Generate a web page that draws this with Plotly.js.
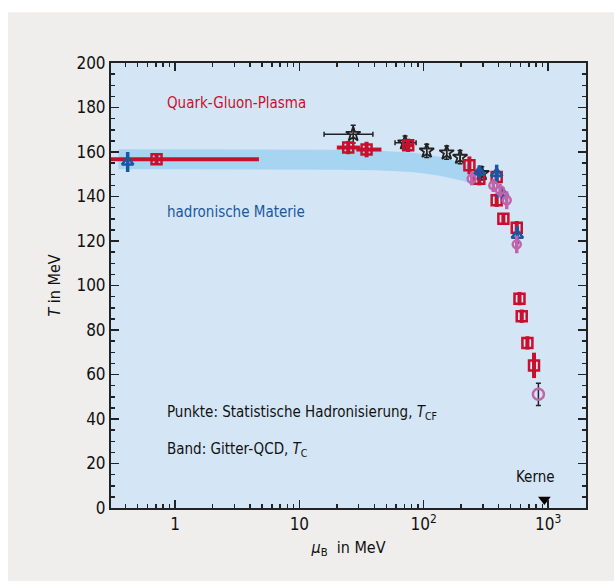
<!DOCTYPE html>
<html>
<head>
<meta charset="utf-8">
<script src="https://cdn.plot.ly/plotly-3.0.1.min.js"></script>
<style>html,body{margin:0;padding:0;background:#fff;}#chart{width:614px;height:581px;}</style>
</head>
<body>
<div id="chart"></div>
<script>
// ---- data ----
// Lattice-QCD band
var bandMu    = [0.35, 1, 5, 10, 20, 40, 60, 80, 100, 130, 160, 200, 230];
var bandUpper = [161.2, 161.2, 161.2, 161.1, 161.0, 160.7, 160.3, 159.8, 159.0, 158.0, 156.8, 155.2, 154.0];
var bandLower = [152.2, 152.2, 152.2, 152.1, 152.0, 151.8, 151.4, 151.0, 150.3, 149.4, 148.4, 147.2, 146.2];

// red squares
var sqMu      = [0.71, 24.7, 34.7, 75, 233, 280, 386, 386, 437, 560, 589, 614, 682, 771];
var sqT       = [156.7, 162, 161.1, 163, 154, 148, 148.8, 138.3, 130, 126, 94.1, 86.2, 74.2, 64.1];
var sqErrT    = [2.5, 3, 3.5, 3, 4, 3, 3, 3, 2.5, 3, 3, 3, 3, 5.7];
var sqErrMuP  = [4.02, 6, 11, 6, 0, 0, 0, 0, 0, 0, 0, 0, 0, 0];
var sqErrMuM  = [0.45, 4.7, 6, 5, 0, 0, 0, 0, 0, 0, 0, 0, 0, 0];

// black stars
var stMu      = [27.1, 70.8, 105.7, 153, 196, 293];
var stT       = [168, 164.2, 160.5, 159.7, 157.7, 150.4];
var stErrT    = [4, 3, 3, 3, 3, 3];
var stErrMuP  = [11.9, 16, 0, 0, 0, 0];
var stErrMuM  = [11.3, 12, 0, 0, 0, 0];

// blue triangles
var trMu      = [0.416, 280, 386, 431, 566];
var trT       = [155.5, 151, 150.3, 141.3, 122.6];
var trErrT    = [4.5, 3, 4, 3, 4];

// pink circles
var ciMu      = [243, 363, 411, 465, 560];
var ciT       = [148, 145, 142.8, 138.3, 118.5];
var ciErrT    = [3, 3, 3, 4, 4];
var ciLowMu   = [836];
var ciLowT    = [51.1];
var ciLowErr  = [5];

// nuclei marker
var kerneMu   = [934];
var kerneT    = [3.8];

var xTickVals = [1, 10, 100, 1000];
var xTickText = ['1', '10', '10<sup>2</sup>', '10<sup>3</sup>'];

// ---- styling ----
var RED = '#c8102e', BLUE = '#1b57a0', PINK = '#c064ac', BLACK = '#222222';
var FONT = 'Liberation Sans Narrow, DejaVu Sans Condensed, Arial Narrow, sans-serif';

var minorX = [];
for (var d = -1; d <= 3; d++) {
  for (var k = 2; k <= 9; k++) minorX.push(k * Math.pow(10, d));
}

var traces = [
  { x: bandMu.concat(bandMu.slice().reverse()),
    y: bandUpper.concat(bandLower.slice().reverse()),
    type: 'scatter', mode: 'lines', fill: 'toself', fillcolor: '#a7d5f1',
    line: {width: 0, color: '#a7d5f1'}, hoverinfo: 'skip' },
  { x: stMu, y: stT, type: 'scatter', mode: 'markers',
    marker: {symbol: 'star-open', size: 11, color: BLACK, line: {width: 1.8, color: BLACK}},
    error_y: {type: 'data', array: stErrT, color: BLACK, thickness: 1.5, width: 2.5},
    error_x: {type: 'data', array: stErrMuP, arrayminus: stErrMuM, color: BLACK, thickness: 1.5, width: 2.5} },
  { x: sqMu, y: sqT, type: 'scatter', mode: 'markers',
    marker: {symbol: 'square-open', size: 10, color: RED, line: {width: 2.5, color: RED}},
    error_y: {type: 'data', array: sqErrT, color: RED, thickness: 4, width: 0},
    error_x: {type: 'data', array: sqErrMuP, arrayminus: sqErrMuM, color: RED, thickness: 4, width: 0} },
  { x: trMu, y: trT, type: 'scatter', mode: 'markers',
    marker: {symbol: 'triangle-up-open', size: 10, color: BLUE, line: {width: 2.5, color: BLUE}},
    error_y: {type: 'data', array: trErrT, color: BLUE, thickness: 3.5, width: 0} },
  { x: ciMu, y: ciT, type: 'scatter', mode: 'markers',
    marker: {symbol: 'circle-open', size: 8, color: PINK, line: {width: 2.5, color: PINK}},
    error_y: {type: 'data', array: ciErrT, color: PINK, thickness: 3.5, width: 0} },
  { x: ciLowMu, y: ciLowT, type: 'scatter', mode: 'markers',
    marker: {symbol: 'circle-open', size: 11, color: PINK, line: {width: 2.5, color: PINK}},
    error_y: {type: 'data', array: ciLowErr, color: BLACK, thickness: 1.5, width: 2.5} },
  { x: kerneMu, y: kerneT, type: 'scatter', mode: 'markers', cliponaxis: false,
    marker: {symbol: 'triangle-down', size: 11, color: '#000'} }
];

var layout = {
  width: 614, height: 581,
  margin: {l: 111, r: 28, t: 63, b: 73, pad: 0},
  paper_bgcolor: '#efeeec',
  plot_bgcolor: '#d4e6f5',
  showlegend: false,
  font: {family: FONT, size: 16, color: '#111'},
  xaxis: {
    type: 'log', range: [-0.515, 3.305],
    tickmode: 'array', tickvals: xTickVals, ticktext: xTickText,
    ticks: 'inside', ticklen: 8, tickwidth: 1.5, tickcolor: '#222',
    showline: true, linewidth: 2, linecolor: '#222', mirror: 'ticks',
    showgrid: false, zeroline: false,
    tickfont: {family: FONT, size: 17, color: '#111'},
    minor: {tickmode: 'array', tickvals: minorX, ticks: 'inside', ticklen: 4, tickwidth: 1.5, tickcolor: '#222', showgrid: false},
    title: {text: '<i>μ</i><sub>B</sub>  in MeV', font: {family: FONT, size: 16, color: '#111'}, standoff: 8}
  },
  yaxis: {
    range: [0, 200], dtick: 20, tick0: 0,
    ticks: 'inside', ticklen: 8, tickwidth: 1.5, tickcolor: '#222',
    showline: true, linewidth: 2, linecolor: '#222', mirror: 'ticks',
    showgrid: false, zeroline: false,
    tickfont: {family: FONT, size: 17, color: '#111'},
    minor: {dtick: 5, ticks: 'inside', ticklen: 4, tickwidth: 1.5, tickcolor: '#222', showgrid: false},
    title: {text: '<i>T</i> in MeV', font: {family: FONT, size: 16, color: '#111'}, standoff: 12}
  },
  shapes: [
    {type: 'rect', xref: 'paper', yref: 'paper', x0: -0.3, x1: 1.2, y0: 1.114, y1: 1.3,
     fillcolor: '#ffffff', line: {width: 0}, layer: 'below'},
    {type: 'rect', xref: 'paper', yref: 'paper', x0: -0.3, x1: -0.217, y0: -0.3, y1: 1.3,
     fillcolor: '#ffffff', line: {width: 0}, layer: 'below'}
  ],
  annotations: [
    {xref: 'paper', yref: 'paper', x: 0.114, y: 0.909, xanchor: 'left', yanchor: 'middle', showarrow: false,
     text: 'Quark-Gluon-Plasma', font: {family: FONT, size: 15, color: RED}},
    {xref: 'paper', yref: 'paper', x: 0.114, y: 0.666, xanchor: 'left', yanchor: 'middle', showarrow: false,
     text: 'hadronische Materie', font: {family: FONT, size: 15, color: BLUE}},
    {xref: 'paper', yref: 'paper', x: 0.114, y: 0.215, xanchor: 'left', yanchor: 'middle', showarrow: false,
     text: 'Punkte: Statistische Hadronisierung, <i>T</i><sub>CF</sub>', font: {family: FONT, size: 15, color: '#111'}},
    {xref: 'paper', yref: 'paper', x: 0.114, y: 0.132, xanchor: 'left', yanchor: 'middle', showarrow: false,
     text: 'Band: Gitter-QCD, <i>T</i><sub>C</sub>', font: {family: FONT, size: 15, color: '#111'}},
    {xref: 'paper', yref: 'paper', x: 0.893, y: 0.069, xanchor: 'center', yanchor: 'middle', showarrow: false,
     text: 'Kerne', font: {family: FONT, size: 15, color: '#111'}}
  ]
};

Plotly.newPlot('chart', traces, layout, {displayModeBar: false, staticPlot: true});
</script>
</body>
</html>
